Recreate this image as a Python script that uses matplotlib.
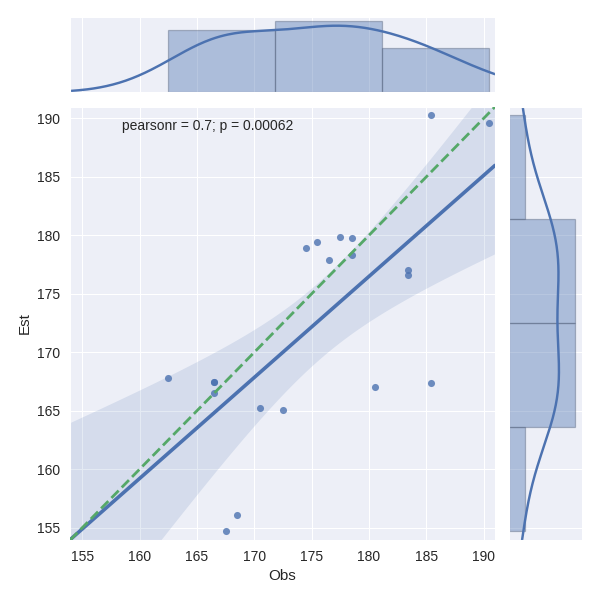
import numpy as np
import matplotlib
matplotlib.use("Agg")
import matplotlib.pyplot as plt
import seaborn as sns

obs = [185.4, 190.5, 174.5, 175.5, 177.5, 178.5, 176.5, 178.5, 183.4, 183.4,
       162.5, 166.5, 166.5, 166.5, 180.5, 185.4, 170.5, 172.5, 168.5, 167.5]
est = [190.3, 189.6, 178.9, 179.4, 179.9, 179.8, 177.9, 178.3, 177.0, 176.6,
       167.8, 167.5, 167.5, 166.5, 167.0, 167.4, 165.2, 165.1, 156.1, 154.7]
x_bins = 3
y_bins = 4
ticks = [155, 160, 165, 170, 175, 180, 185, 190]
lims = (153.95, 191.0)

blue = "#4C72B0"
green = "#55A868"

sns.set_style("darkgrid", {"axes.facecolor": "#EDEFF7"})
plt.rcParams["font.family"] = ["Liberation Sans", "DejaVu Sans"]

x = np.array(obs)
y = np.array(est)
n = len(x)


def kde(data, grid):
    bw = data.std(ddof=1) * len(data) ** (-1 / 5)
    z = (grid[:, None] - data[None, :]) / bw
    return np.exp(-0.5 * z ** 2).sum(axis=1) / (len(data) * bw * np.sqrt(2 * np.pi))


fig = plt.figure(figsize=(6, 6), dpi=100)
ax = fig.add_axes([0.117, 0.1, 0.708, 0.722])
ax_x = fig.add_axes([0.117, 0.846, 0.708, 0.125], sharex=ax)
ax_y = fig.add_axes([0.848, 0.1, 0.122, 0.722], sharey=ax)

# joint: scatter, fit, ci band, identity line
ax.scatter(x, y, s=26, color=blue, alpha=0.8, linewidths=0, zorder=3)
slope, intercept = np.polyfit(x, y, 1)
grid = np.linspace(lims[0], lims[1], 100)
fit = intercept + slope * grid
resid = y - (intercept + slope * x)
s = np.sqrt((resid ** 2).sum() / (n - 2))
sxx = ((x - x.mean()) ** 2).sum()
half = 2.101 * s * np.sqrt(1 / n + (grid - x.mean()) ** 2 / sxx)
ax.fill_between(grid, fit - half, fit + half, color=blue, alpha=0.15, lw=0)
ax.plot(grid, fit, color=blue, lw=2.6, zorder=4)
ax.plot(lims, lims, "--", color=green, lw=2, zorder=4)

r = np.corrcoef(x, y)[0, 1]
ax.text(0.123, 0.956, "pearsonr = %.1g; p = 0.00062" % r, transform=ax.transAxes,
        fontsize=10, va="center", ha="left")

ax.set_xlim(lims)
ax.set_ylim(lims)
ax.set_xticks(ticks)
ax.set_yticks(ticks)
ax.tick_params(labelsize=10)
ax.set_xlabel("Obs", fontsize=11)
ax.set_ylabel("Est", fontsize=11)

# marginals
edge = (0.3, 0.35, 0.45)
ax_x.hist(x, bins=x_bins, density=True, color=blue, alpha=0.4, edgecolor=edge, lw=0.9)
gx = np.linspace(lims[0], lims[1], 200)
ax_x.plot(gx, kde(x, gx), color=blue, lw=1.75)
ax_x.set_ylim(0, None)
ax_x.set_yticks([])
ax_x.tick_params(labelbottom=False)

ax_y.hist(y, bins=y_bins, density=True, orientation="horizontal", color=blue,
          alpha=0.4, edgecolor=edge, lw=0.9)
ax_y.plot(kde(y, gx), gx, color=blue, lw=1.75)
ax_y.set_xlim(0, 0.0495)
ax_y.set_xticks([])
ax_y.tick_params(labelleft=False)

ax.set_xlim(lims)
ax.set_ylim(lims)

fig.savefig("out.png", dpi=100)
